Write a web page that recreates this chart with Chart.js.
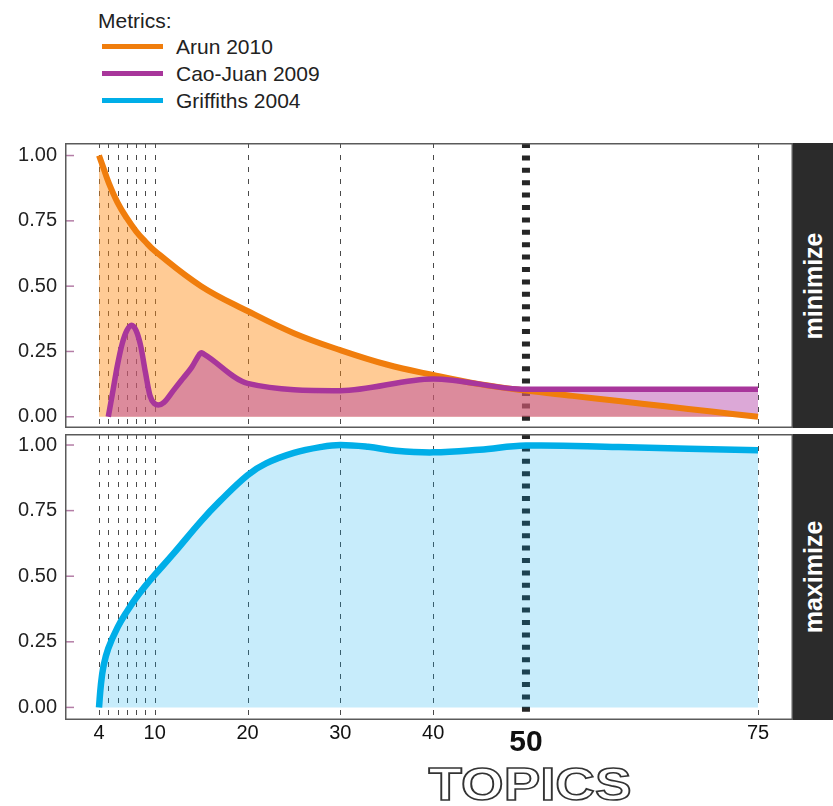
<!DOCTYPE html>
<html>
<head>
<meta charset="utf-8">
<script src="https://cdn.jsdelivr.net/npm/chart.js@4.4.1/dist/chart.umd.min.js"></script>
<style>
  body { margin: 0; background: #fff; font-family: "Liberation Sans", Arial, sans-serif; color: #222; }
  #page { position: relative; width: 833px; height: 806px; overflow: hidden; }
  canvas { position: absolute; left: 0; }
  #legend { position: absolute; left: 0; top: 0; font-size: 21px; }
  #legend .title { position: absolute; left: 98px; top: 9px; line-height: 24px; white-space: nowrap; }
  #legend .row { position: absolute; left: 102px; height: 24px; line-height: 24px; white-space: nowrap; }
  #legend .sw { position: absolute; left: 0; top: 9px; width: 61px; height: 5px; }
  #legend .lbl { position: absolute; left: 74px; top: 0; }
  .strip { position: absolute; left: 793px; width: 40px; background: #2b2b2b; }
  .strip span { position: absolute; left: 50%; top: 50%; transform: translate(-50%, -50%) rotate(-90deg);
    color: #fff; font-weight: bold; font-size: 25px; white-space: nowrap; }
  #topics { position: absolute; left: 530px; top: 761px; font-size: 46px; line-height: 46px; font-weight: bold;
    color: #fff; -webkit-text-stroke: 1.6px #333; transform: translateX(-50%) scaleX(1.19); white-space: nowrap; }
</style>
</head>
<body>
<div id="page">
  <div id="legend">
    <div class="title">Metrics:</div>
    <div class="row" style="top:35px"><div class="sw" style="background:#f07d0c"></div><div class="lbl">Arun 2010</div></div>
    <div class="row" style="top:62px"><div class="sw" style="background:#a8369b"></div><div class="lbl">Cao-Juan 2009</div></div>
    <div class="row" style="top:89px"><div class="sw" style="background:#00aee8"></div><div class="lbl">Griffiths 2004</div></div>
  </div>

  <canvas id="topChart" width="793" height="300" style="top:130px"></canvas>
  <canvas id="bottomChart" width="793" height="340" style="top:420px"></canvas>

  <div class="strip" style="top:143px;height:285px"><span>minimize</span></div>
  <div class="strip" style="top:434px;height:286px"><span>maximize</span></div>

  <div id="topics">TOPICS</div>
</div>

<script>
  // x positions of the dashed guides, and the chosen number of topics
  var guideX = [4, 5, 6, 7, 8, 9, 10, 20, 30, 40, 75];
  var chosenK = 50;
  var xTicks = [4, 10, 20, 30, 40, 50, 75];
  var yTicks = [0, 0.25, 0.5, 0.75, 1];

  // minimize panel
  var arunX = [4, 4.5, 5, 6, 7, 8, 9, 10, 15, 20, 25, 30, 35, 40, 45, 50, 55, 60, 65, 70, 75];
  var arunY = [1.00, 0.95, 0.90, 0.82, 0.76, 0.71, 0.67, 0.635, 0.50, 0.405, 0.32, 0.255, 0.20, 0.16, 0.125, 0.10, 0.08, 0.06, 0.04, 0.02, 0.0];

  var caoX = [5, 5.5, 6, 6.5, 7, 7.5, 8, 8.5, 9, 9.5, 10, 10.4, 11, 12, 13, 14, 14.8, 15, 15.3, 20, 30, 40, 50, 75];
  var caoY = [0.0, 0.10, 0.20, 0.28, 0.33, 0.35, 0.33, 0.27, 0.17, 0.08, 0.05, 0.045, 0.055, 0.10, 0.145, 0.19, 0.238, 0.245, 0.24, 0.128, 0.10, 0.145, 0.105, 0.105];

  // maximize panel
  var griffX = [4, 4.2, 4.5, 5, 6, 7, 8, 9, 10, 12, 15, 17, 20, 22, 25, 28, 30, 33, 36, 40, 45, 50, 60, 75];
  var griffY = [0.0, 0.085, 0.16, 0.225, 0.305, 0.365, 0.418, 0.463, 0.505, 0.585, 0.71, 0.785, 0.885, 0.93, 0.97, 0.993, 1.0, 0.993, 0.978, 0.972, 0.982, 0.998, 0.992, 0.98];

  var FONT = 'Liberation Sans';

  function pts(xs, ys) {
    return xs.map(function (x, i) { return { x: x, y: ys[i] }; });
  }

  function strokeLine(ctx, x1, y1, x2, y2) {
    ctx.beginPath();
    ctx.moveTo(x1, y1);
    ctx.lineTo(x2, y2);
    ctx.stroke();
  }

  // no extra room for half labels at the axis ends
  function noPadding(s) {
    s.paddingTop = 0;
    s.paddingBottom = 0;
    s.paddingLeft = 0;
    s.paddingRight = 0;
  }

  // guides under the fills, frame on top
  var panelPlugin = {
    id: 'panel',
    beforeDraw: function (chart) {
      var ctx = chart.ctx, a = chart.chartArea, x = chart.scales.x, y = chart.scales.y;
      ctx.save();
      ctx.strokeStyle = '#4a4a4a';
      ctx.lineWidth = 1;
      ctx.setLineDash([5, 7]);
      guideX.forEach(function (v) {
        var px = Math.round(x.getPixelForValue(v)) + 0.5;
        strokeLine(ctx, px, a.top, px, a.bottom);
      });
      ctx.strokeStyle = '#262626';
      ctx.lineWidth = 8;
      ctx.setLineDash([5, 7.4]);
      var pk = x.getPixelForValue(chosenK);
      strokeLine(ctx, pk, a.top, pk, a.bottom);
      ctx.setLineDash([]);
      ctx.strokeStyle = '#b47da6';
      ctx.lineWidth = 1.5;
      yTicks.forEach(function (v) {
        var py = y.getPixelForValue(v);
        strokeLine(ctx, a.left, py, a.left + 9, py);
      });
      ctx.restore();
    },
    afterDraw: function (chart) {
      var ctx = chart.ctx, a = chart.chartArea;
      ctx.save();
      ctx.strokeStyle = '#5a5a5a';
      ctx.lineWidth = 1.5;
      ctx.strokeRect(a.left + 0.75, a.top + 0.75, a.right - a.left - 1.5, a.bottom - a.top - 1.5);
      ctx.restore();
    }
  };

  function yAxis(min, max) {
    return {
      type: 'linear',
      min: min,
      max: max,
      grid: { display: false, drawTicks: false },
      border: { display: false },
      afterBuildTicks: function (s) { s.ticks = yTicks.map(function (v) { return { value: v }; }); },
      afterFit: function (s) { s.width = 65; noPadding(s); },
      ticks: {
        padding: 8,
        color: '#222',
        font: { family: FONT, size: 20 },
        callback: function (v) { return Number(v).toFixed(2); }
      }
    };
  }

  function baseOptions(padding, xScale, yScale) {
    return {
      responsive: false,
      animation: false,
      devicePixelRatio: 1,
      layout: { padding: padding },
      elements: { point: { radius: 0 } },
      plugins: {
        legend: { display: false },
        tooltip: { enabled: false },
        filler: { drawTime: 'beforeDatasetsDraw' }
      },
      scales: { x: xScale, y: yScale }
    };
  }

  new Chart(document.getElementById('topChart'), {
    type: 'line',
    data: {
      datasets: [
        {
          label: 'Cao-Juan 2009',
          data: pts(caoX, caoY),
          borderColor: '#a8369b',
          backgroundColor: 'rgba(178, 62, 167, 0.45)',
          borderWidth: 5.5,
          cubicInterpolationMode: 'monotone',
          fill: 'origin'
        },
        {
          label: 'Arun 2010',
          data: pts(arunX, arunY),
          borderColor: '#f07d0c',
          backgroundColor: 'rgba(255, 140, 20, 0.45)',
          borderWidth: 6,
          tension: 0.4,
          fill: 'origin'
        }
      ]
    },
    options: baseOptions(
      { top: 13, bottom: 2, left: 0, right: 0 },
      { type: 'linear', min: 0.336, max: 78.77, display: false, afterFit: noPadding },
      yAxis(-0.043, 1.048)
    ),
    plugins: [panelPlugin]
  });

  new Chart(document.getElementById('bottomChart'), {
    type: 'line',
    data: {
      datasets: [
        {
          label: 'Griffiths 2004',
          data: pts(griffX, griffY),
          borderColor: '#00aee8',
          backgroundColor: 'rgba(0, 168, 235, 0.22)',
          borderWidth: 6.5,
          tension: 0.4,
          fill: 'origin'
        }
      ]
    },
    options: baseOptions(
      { top: 14, bottom: 0, left: 0, right: 0 },
      {
        type: 'linear',
        min: 0.336,
        max: 78.77,
        grid: { display: false, drawTicks: false },
        border: { display: false },
        afterBuildTicks: function (s) { s.ticks = xTicks.map(function (v) { return { value: v }; }); },
        afterFit: function (s) { s.height = 40; noPadding(s); },
        ticks: {
          autoSkip: false,
          maxRotation: 0,
          minRotation: 0,
          padding: 1.5,
          color: '#111',
          font: function (c) {
            if (c.tick && c.tick.value === chosenK) {
              return { family: FONT, size: 30, weight: 'bold', lineHeight: 1.4 };
            }
            return { family: FONT, size: 20, lineHeight: 1.2 };
          },
          callback: function (v) { return String(v); }
        }
      },
      yAxis(-0.048, 1.042)
    ),
    plugins: [panelPlugin]
  });
</script>
</body>
</html>
